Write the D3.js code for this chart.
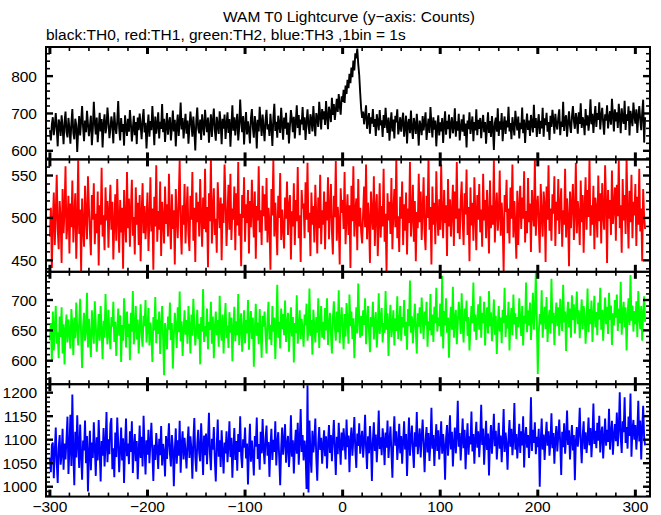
<!DOCTYPE html>
<html><head><meta charset="utf-8">
<script src="https://cdn.jsdelivr.net/npm/d3@7"></script>
<style>
body{margin:0;background:#fff}
svg{display:block}
text{font-family:"Liberation Sans",Arial,Helvetica,sans-serif;font-size:15.5px;fill:#000}
</style>
</head><body><svg id="c" width="661" height="515"></svg>
<script>
const title = "WAM T0 Lightcurve (y\u2212axis: Counts)";
const subtitle = "black:TH0, red:TH1, green:TH2, blue:TH3 ,1bin = 1s";
const tStart = -300, binWidth = 1;

const th0 = [
655,628,671,690,642,667,701,659,612,684,673,640,695,662,618,677,705,650,636,688,
660,619,674,712,648,631,686,669,597,655,693,641,678,720,663,626,681,650,707,672,
639,667,694,615,658,731,676,644,689,623,661,702,652,685,609,670,698,647,663,716,
681,634,657,692,671,620,703,666,645,679,733,659,628,688,651,672,614,695,664,640,
686,651,709,673,625,660,694,642,677,618,689,655,700,668,631,684,712,649,675,606,
662,697,638,680,655,720,671,615,692,646,669,703,633,678,659,725,650,686,624,666,
701,643,674,690,628,661,708,652,683,612,667,697,640,676,729,657,688,633,670,699,
646,681,619,663,705,674,638,692,655,601,679,716,660,647,684,629,698,668,641,710,
675,650,689,622,664,698,637,680,713,656,627,691,669,645,706,674,618,686,659,697,
632,671,703,648,685,611,667,722,654,690,641,676,699,628,662,737,681,650,693,617,
669,704,644,679,657,620,688,712,661,635,693,670,606,683,652,718,676,640,697,663,
626,682,710,657,671,640,699,664,613,687,726,653,678,635,694,668,648,715,672,630,
689,659,702,643,676,620,667,709,685,650,691,633,677,722,661,696,642,684,671,717,
655,690,629,676,711,668,645,698,683,652,720,674,639,701,688,664,731,695,657,712,
684,706,669,733,692,658,718,701,677,742,696,725,683,710,739,704,752,721,697,746,
731,763,728,775,752,790,768,806,781,823,797,842,815,861,848,874,832,803,755,712,
688,705,671,694,722,659,683,701,646,690,673,712,664,685,640,698,677,655,709,668,
682,637,696,661,715,674,648,689,627,670,703,652,684,633,694,676,711,644,662,690,
651,679,702,638,666,694,620,673,685,647,708,659,632,688,671,645,699,663,614,681,
667,642,693,655,678,703,629,661,686,648,717,672,636,690,657,681,612,664,695,641,
676,652,688,621,669,706,643,680,658,697,633,671,690,647,665,714,638,679,654,699,
628,662,684,651,697,640,673,609,681,658,703,645,668,692,626,677,655,711,642,683,
659,688,634,671,696,650,677,619,665,703,648,680,637,693,662,602,674,689,651,714,
640,679,657,701,626,668,692,645,681,663,718,652,674,631,690,666,641,707,677,655,
692,633,675,658,716,647,684,621,669,700,656,681,640,696,672,649,723,661,688,637,
673,698,645,680,660,715,638,687,669,702,651,677,629,694,664,710,682,646,699,671,
657,689,711,642,678,664,731,653,686,695,638,674,706,667,648,692,720,680,659,701,
685,646,703,672,727,661,690,679,642,712,668,695,654,683,738,671,699,648,689,720,
664,701,683,730,657,692,715,676,643,698,681,722,660,688,706,670,739,695,652,711,
679,703,661,726,690,647,714,685,672,734,656,698,680,719,641,707,688,666,729,694,
673,711,648,692,720,684,655,702,737,622,690
];

const th1 = [
478,512,441,496,530,468,505,551,487,463,520,499,447,534,482,509,561,475,493,526,
458,517,489,544,471,502,529,452,496,568,481,510,437,523,490,466,538,501,475,549,
512,484,456,527,498,541,469,505,482,531,444,515,492,559,478,503,462,536,497,520,
465,507,539,486,519,451,494,528,473,546,500,459,521,483,512,440,533,496,471,554,
488,523,466,510,545,479,501,457,536,492,518,468,527,449,505,541,482,514,475,500,
530,461,497,548,484,511,439,525,490,562,472,508,486,543,455,519,499,470,537,493,
516,478,552,497,463,528,487,509,445,534,501,476,522,568,489,457,515,492,540,470,
505,537,481,461,526,498,554,473,512,448,530,495,519,478,546,502,466,524,487,558,
483,513,442,529,496,571,470,507,535,480,499,459,542,511,488,524,450,517,494,563,
521,467,503,539,486,552,474,511,498,537,462,529,491,566,479,505,443,527,500,548,
472,516,494,533,458,520,489,545,506,477,531,452,514,497,561,483,509,468,538,502,
528,485,547,471,512,495,439,534,503,569,478,518,491,456,526,500,553,474,510,487,
464,524,499,543,480,513,527,451,508,490,541,468,521,496,560,476,503,448,533,511,
517,476,542,498,565,483,506,455,530,492,514,471,539,503,458,524,488,551,469,509,
492,531,463,519,497,548,475,510,540,484,457,526,501,567,473,513,495,445,535,506,
521,487,554,469,502,528,480,515,441,538,496,561,478,507,523,462,546,490,512,483,
470,506,537,489,563,475,518,498,447,531,503,486,549,467,512,528,455,495,541,477,
514,490,558,472,505,436,529,497,519,481,547,463,508,534,489,571,476,502,460,525,
499,543,468,516,485,530,457,511,494,566,478,503,539,472,520,449,507,488,552,495,
531,474,509,548,483,462,526,500,571,486,513,445,537,492,518,469,555,504,479,522,
486,563,501,476,533,494,515,455,546,490,522,478,508,539,467,531,499,566,482,511,
475,520,543,496,468,529,504,557,480,513,449,536,491,518,473,548,506,462,527,498,
540,483,510,466,552,497,521,476,533,502,458,544,488,515,492,569,471,509,530,485,
503,556,479,518,494,437,527,507,545,482,511,470,536,499,563,477,520,491,452,532,
468,513,538,487,524,499,555,471,508,482,547,495,517,460,533,506,490,570,479,514,
526,492,459,540,503,478,531,516,448,537,498,562,485,511,473,528,505,549,467,519,
497,546,481,514,535,466,509,492,558,477,523,500,443,531,488,517,540,474,506,565,
482,520,503,468,544,495,527,459,512,548,486,533,501,571,479,515,492,538,463,524,
510,477,550,496,529,470,541,505,486,562,518,447,533,499,521,480,556,493,514,536,
473,539,502,568,488,515,459,546,497,527,481,570,508,464,532,495,551,476,519,503,
540,467,525,492,558,484,511,449,534,501,487
];

const th2 = [
634,662,599,681,617,655,690,628,647,604,673,639,688,612,660,594,651,676,630,668,
646,620,685,658,609,671,637,696,653,625,664,702,641,588,657,679,633,650,712,622,
669,640,606,683,652,628,698,661,615,644,677,633,690,649,603,666,638,710,655,627,
684,645,619,672,656,697,631,664,608,650,686,641,675,598,659,633,703,668,622,681,
639,661,601,679,648,715,627,656,690,635,668,612,653,693,642,623,674,657,700,630,
654,687,625,663,641,598,672,650,705,629,668,644,681,611,658,690,637,576,662,645,
619,673,651,696,634,662,587,640,679,656,621,688,647,714,632,665,608,651,683,643,
667,628,690,655,612,676,641,702,659,625,649,684,636,661,594,672,648,718,631,657,
640,686,619,664,651,697,628,673,604,655,681,642,667,623,707,650,633,676,612,661,
695,637,658,621,680,646,671,599,654,689,632,665,642,710,626,657,678,615,648,683,
629,667,645,700,618,659,682,636,671,590,652,694,641,663,627,685,650,605,674,656,
681,643,612,668,697,635,659,626,690,648,671,603,657,725,638,664,620,686,652,677,
642,699,631,660,679,615,653,688,640,672,597,662,646,708,628,655,683,636,669,651,
623,676,658,694,633,649,719,641,667,610,684,657,630,672,646,703,621,661,690,638,
664,635,687,650,703,626,659,679,644,612,670,698,655,633,681,647,716,629,662,688,
652,619,677,640,695,663,628,709,657,681,636,670,604,651,688,645,727,668,638,674,
641,683,659,703,627,665,690,648,614,672,656,697,635,661,680,622,653,711,644,669,
687,630,662,646,715,651,678,608,664,692,639,657,683,625,670,649,706,636,660,690,
633,672,655,700,641,664,618,685,657,732,646,673,629,661,694,650,612,678,656,688,
645,704,668,636,681,658,697,623,665,650,710,642,676,631,689,662,720,648,671,657,
694,640,740,620,682,658,703,646,671,605,663,689,651,722,638,668,684,627,660,697,
675,644,711,658,630,686,665,699,641,672,617,655,690,662,729,648,676,634,667,693,
651,706,638,679,662,697,625,669,688,645,715,657,680,632,664,701,643,674,611,658,
690,648,671,629,684,662,720,639,675,653,697,617,666,687,642,709,660,678,636,672,
655,703,668,641,690,625,674,661,729,647,683,658,696,634,670,712,651,681,745,667,
578,646,677,660,716,638,672,689,652,705,631,667,684,645,735,662,679,626,671,696,
657,688,641,702,670,649,725,663,681,616,674,697,655,686,638,708,667,693,645,679,
714,660,683,637,671,701,652,690,676,628,664,719,647,685,660,699,631,674,707,655,
680,642,696,668,720,651,684,633,673,704,660,689,644,712,667,691,626,678,658,700,
671,709,649,686,662,730,643,677,697,655,688,617,674,703,659,741,666,691,648,682,
660,698,639,715,672,652,690,633,677,706,664
];

const th3 = [
1062,1031,1089,1094,1018,1075,1126,1052,1008,1083,1110,1047,1069,1123,1036,1092,1058,1101,1149,1027,
1080,1153,1044,1196,1071,1003,1117,1062,1152,1089,1040,1132,1068,1015,1098,1077,1141,1050,1108,990,
1072,1119,1035,1094,1061,1137,1084,1023,1105,1056,1142,1078,1011,1097,1066,1125,1043,1088,1159,1052,
1101,1069,1133,1146,1037,1082,1020,1115,1063,1147,1094,1031,1078,1126,1056,1103,1008,1087,1145,1065,
1092,1048,1118,1074,1139,1029,1085,1112,1054,1097,1016,1073,1130,1061,1106,1043,1151,1083,1026,1099,
1068,1121,1050,1093,1136,1075,1012,1089,1057,1114,1080,1038,1102,1067,1129,1045,1091,1073,1022,1108,
1059,1096,1135,1070,1043,1110,1083,1001,1076,1124,1049,1099,1066,1140,1030,1087,1118,1058,1104,1075,
1039,1093,1128,1061,1107,1081,1017,1098,1146,1064,1032,1090,1121,1072,1054,1135,1086,1025,1109,1067,
1113,1048,1096,1157,1070,1035,1102,1079,1127,1058,1011,1088,1143,1064,1099,1042,1120,1076,1028,1094,
1071,1118,1052,1086,1139,1063,1104,1019,1081,1125,1057,1097,1034,1112,1074,1150,1066,1040,1101,1083,
1126,1060,1092,1005,1079,1134,1053,1098,1069,1024,1108,1085,1147,1059,1091,1036,1117,1071,1144,1080,
1048,1103,1130,1066,1095,1021,1086,1123,1057,1100,1074,1139,1045,1093,1116,1062,1003,1082,1126,1068,
1097,1133,1051,1089,1108,1042,1077,1152,1064,1099,1028,1087,1121,1070,1136,1047,1095,1165,1074,1110,
1056,1098,1075,995,1216,988,1141,1068,1030,1119,1073,1096,1145,1061,1013,1092,1127,1078,1104,1049,
1088,1120,1065,1107,1039,1094,1131,1072,1110,1054,1099,1142,1081,1025,1106,1069,1136,1091,1047,1115,
1077,1124,1093,1058,1143,1084,1109,1031,1097,1126,1066,1102,1148,1079,1040,1113,1087,1135,1070,1101,
1119,1062,1094,1153,1083,1038,1107,1071,1129,1090,1012,1098,1137,1076,1111,1052,1093,1162,1080,1105,
1067,1124,1099,1046,1115,1083,1141,1061,1096,1128,1074,1019,1103,1150,1087,1118,1057,1092,1134,1071,
1108,1049,1095,1139,1079,1112,1023,1090,1147,1066,1101,1130,1078,1040,1116,1085,1159,1069,1097,1124,
1062,1105,1143,1088,1031,1099,1127,1073,1114,1055,1092,1168,1081,1110,1044,1096,1133,1076,1120,1058,
1095,1139,1070,1112,1087,1015,1104,1131,1066,1098,1152,1079,1117,1043,1093,1126,1071,1108,1183,1085,
1114,1056,1099,1145,1082,1121,1037,1094,1135,1068,1107,1090,1160,1075,1112,1049,1101,1138,1083,1118,
1063,1102,1174,1089,1124,1047,1095,1140,1078,1113,1024,1097,1131,1070,1108,1155,1086,1119,1058,1096,
1136,1081,1109,1052,1098,1165,1074,1115,1091,1036,1103,1142,1085,1123,1067,1100,1178,1079,1112,1060,
1097,1134,1072,1118,1088,1150,1041,1105,1127,1083,1110,1061,1099,1190,1076,1121,1093,1137,1069,1106,
1084,1123,1000,1096,1145,1079,1111,1057,1102,1138,1087,1118,1066,1095,1156,1082,1114,1049,1101,1129,
1075,1108,1143,1092,1025,1117,1084,1135,1070,1104,1162,1089,1120,1058,1099,1131,1077,1110,1014,1096,
1127,1085,1113,1168,1094,1050,1109,1139,1080,1116,1072,1101,1147,1088,1125,1063,1106,1177,1091,1119,
1082,1136,1098,1151,1073,1112,1128,1060,1103,1145,1087,1121,1095,1166,1079,1114,1140,1068,1109,1133,
1097,1158,1086,1124,1201,1105,1072,1139,1116,1190,1093,1127,1081,1149,1108,1198,1064,1120,1142,1100,
1131,1079,1115,1183,1096,1141,1058,1123,1172,1104,1088
];

const seriesNames = ["TH0", "TH1", "TH2", "TH3"];
const seriesColors = ["#000000", "#ff0000", "#00ff00", "#0000ff"];
const yTickLabels = [[600, 700, 800], [450, 500, 550], [600, 650, 700], [1000, 1050, 1100, 1150, 1200]];
const yMinorSteps = [20, 10, 10, 10];
const xTickLabels = [-300, -200, -100, 0, 100, 200, 300];
const xMinorStep = 20;

const series = [th0, th1, th2, th3];
const yDomains = [[577, 878], [436.5, 569], [561.3, 746.5], [979, 1218]];

const svg = d3.select("#c");
const left = 46, right = 650, top0 = 47, panelH = 112.4;
const x = d3.scaleLinear().domain([-304, 315]).range([left, right]);
const fmt = v => (v < 0 ? "\u2212" + Math.abs(v) : String(v));

svg.append("text").attr("x", 349).attr("y", 22).attr("text-anchor", "middle").text(title);
svg.append("text").attr("x", 46).attr("y", 40).text(subtitle);

series.forEach((data, i) => {
  const y0 = top0 + i * panelH, y1 = y0 + panelH;
  const y = d3.scaleLinear().domain(yDomains[i]).range([y1, y0]);
  const g = svg.append("g");
  const cid = "clip" + i;
  svg.append("clipPath").attr("id", cid).append("rect")
    .attr("x", left).attr("y", y0).attr("width", right - left).attr("height", panelH);
  const line = d3.line().x((d, j) => x(tStart + j * binWidth)).y(d => y(d));
  g.append("path").datum(data).attr("clip-path", `url(#${cid})`)
    .attr("d", line).attr("fill", "none").attr("stroke", seriesColors[i])
    .attr("stroke-width", 1.9).attr("stroke-linejoin", "miter");

  const xMinor = d3.range(-300, 316, xMinorStep).filter(v => !xTickLabels.includes(v));
  xMinor.forEach(v => {
    const px = x(v);
    g.append("line").attr("x1", px).attr("x2", px).attr("y1", y1).attr("y2", y1 - 4).attr("stroke", "#000").attr("stroke-width", 1.6);
    g.append("line").attr("x1", px).attr("x2", px).attr("y1", y0).attr("y2", y0 + 4).attr("stroke", "#000").attr("stroke-width", 1.6);
  });
  xTickLabels.forEach(v => {
    const px = x(v);
    g.append("line").attr("x1", px).attr("x2", px).attr("y1", y1).attr("y2", y1 - 7).attr("stroke", "#000").attr("stroke-width", 3);
    g.append("line").attr("x1", px).attr("x2", px).attr("y1", y0).attr("y2", y0 + 7).attr("stroke", "#000").attr("stroke-width", 3);
  });
  const st = yMinorSteps[i];
  const yMinor = d3.range(Math.ceil(yDomains[i][0] / st) * st, yDomains[i][1], st).filter(v => !yTickLabels[i].includes(v));
  yMinor.forEach(v => {
    const py = y(v);
    g.append("line").attr("x1", left).attr("x2", left + 4).attr("y1", py).attr("y2", py).attr("stroke", "#000").attr("stroke-width", 1.6);
    g.append("line").attr("x1", right).attr("x2", right - 4).attr("y1", py).attr("y2", py).attr("stroke", "#000").attr("stroke-width", 1.6);
  });
  yTickLabels[i].forEach(v => {
    const py = y(v);
    g.append("line").attr("x1", left).attr("x2", left + 7).attr("y1", py).attr("y2", py).attr("stroke", "#000").attr("stroke-width", 2.4);
    g.append("line").attr("x1", right).attr("x2", right - 7).attr("y1", py).attr("y2", py).attr("stroke", "#000").attr("stroke-width", 2.4);
    svg.append("text").attr("x", 37).attr("y", py + 5.5).attr("text-anchor", "end").text(fmt(v));
  });
  g.append("rect").attr("x", left).attr("y", y0).attr("width", right - left).attr("height", panelH)
    .attr("fill", "none").attr("stroke", "#000").attr("stroke-width", 2);

  if (i === series.length - 1) {
    xTickLabels.forEach(v => {
      svg.append("text").attr("x", x(v)).attr("y", 512).attr("text-anchor", "middle").text(fmt(v));
    });
  }
});
</script>
</body></html>
